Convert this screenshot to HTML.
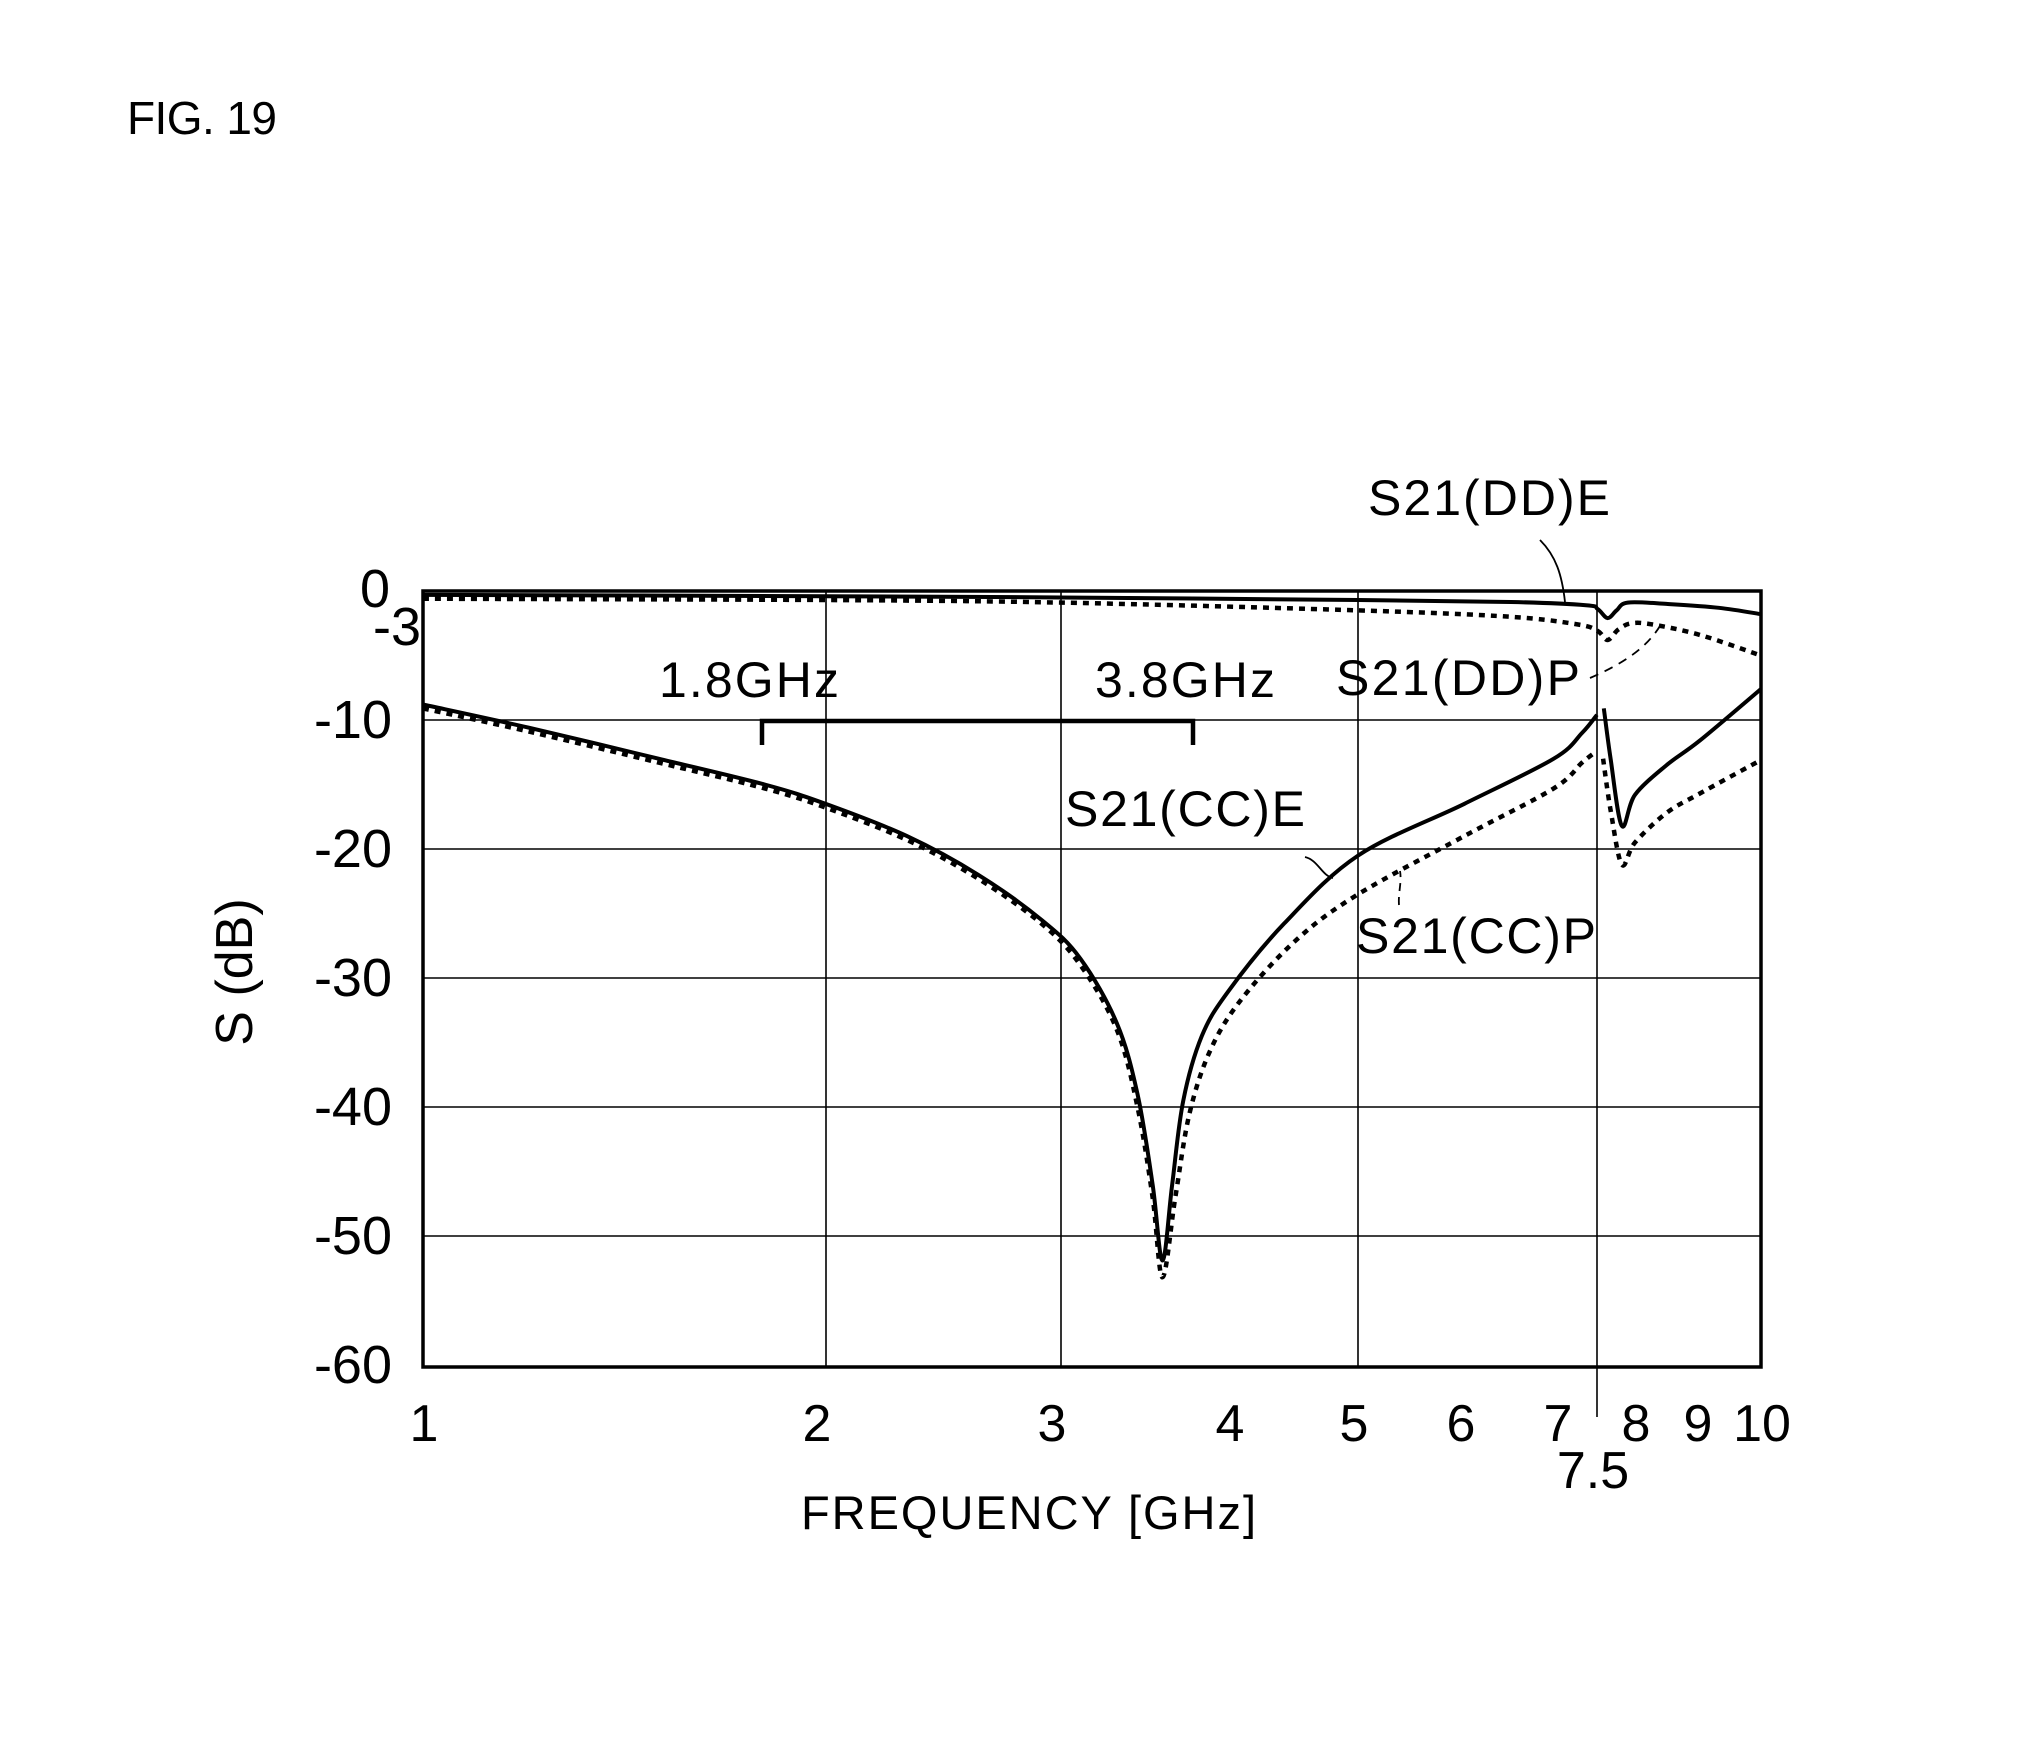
<!DOCTYPE html>
<html><head><meta charset="utf-8"><style>
html,body{margin:0;padding:0;background:#fff;}
svg{display:block;}
text{font-family:"Liberation Sans","DejaVu Sans",sans-serif;fill:#000;}
</style></head><body>
<svg id="s" width="2017" height="1744" viewBox="0 0 2017 1744" xmlns="http://www.w3.org/2000/svg">
<text x="127" y="134" font-size="46" textLength="150">FIG. 19</text>
<g stroke="#000" stroke-width="1.6" fill="none">
<line x1="423" y1="720" x2="1761" y2="720"/>
<line x1="423" y1="849" x2="1761" y2="849"/>
<line x1="423" y1="978" x2="1761" y2="978"/>
<line x1="423" y1="1107" x2="1761" y2="1107"/>
<line x1="423" y1="1236" x2="1761" y2="1236"/>
<line x1="826" y1="591" x2="826" y2="1367"/>
<line x1="1061" y1="591" x2="1061" y2="1367"/>
<line x1="1358" y1="591" x2="1358" y2="1367"/>
<line x1="1597" y1="591" x2="1597" y2="1417"/>
</g>
<rect x="423" y="591" width="1338" height="776" fill="none" stroke="#000" stroke-width="3.5"/>
<g id="curves"></g>
<path d="M762,745 V721 H1193 V745" fill="none" stroke="#000" stroke-width="4.5"/>
<g fill="none" stroke="#000" stroke-width="1.8">
<path d="M1540,540 C1556,556 1562,575 1565,602"/>
<path d="M1590,678 C1620,665 1645,650 1660,626" stroke-dasharray="9,7"/>
<path d="M1305,857 C1318,860 1322,876 1333,878"/>
<path d="M1399,905 C1398,893 1402,882 1400,871" stroke-dasharray="8,6"/>
</g>
<g font-size="50">
<text x="1368" y="515" textLength="242">S21(DD)E</text>
<text x="1336" y="695" textLength="244">S21(DD)P</text>
<text x="659" y="697" textLength="180">1.8GHz</text>
<text x="1095" y="697" textLength="180">3.8GHz</text>
<text x="1065" y="826" textLength="240">S21(CC)E</text>
<text x="1356" y="953" textLength="240">S21(CC)P</text>
</g>
<g font-size="54" text-anchor="end">
<text x="390" y="607">0</text>
<text x="421" y="645">-3</text>
<text x="392" y="738">-10</text>
<text x="392" y="867">-20</text>
<text x="392" y="996">-30</text>
<text x="392" y="1125">-40</text>
<text x="392" y="1254">-50</text>
<text x="392" y="1383">-60</text>
</g>
<g font-size="52" text-anchor="middle">
<text x="424" y="1441">1</text>
<text x="817" y="1441">2</text>
<text x="1052" y="1441">3</text>
<text x="1230" y="1441">4</text>
<text x="1354" y="1441">5</text>
<text x="1461" y="1441">6</text>
<text x="1558" y="1441">7</text>
<text x="1636" y="1441">8</text>
<text x="1698" y="1441">9</text>
<text x="1762" y="1441">10</text>
<text x="1593" y="1488">7.5</text>
</g>
<text x="801" y="1529" font-size="47" textLength="455">FREQUENCY [GHz]</text>
<text transform="translate(252,972) rotate(-90)" font-size="52" text-anchor="middle">S (dB)</text>
</svg>
<script>
function X(f){return 423+1338*Math.log10(f);}
function Y(d){return 591-12.9*d;}
function path(pts){
  var p=pts.map(function(a){return [X(a[0]),Y(a[1])];});
  var d="M"+p[0][0].toFixed(1)+","+p[0][1].toFixed(1);
  for(var i=0;i<p.length-1;i++){
    var p0=p[i-1]||p[i],p1=p[i],p2=p[i+1],p3=p[i+2]||p2;
    var c1x=p1[0]+(p2[0]-p0[0])/6,c1y=p1[1]+(p2[1]-p0[1])/6;
    var c2x=p2[0]-(p3[0]-p1[0])/6,c2y=p2[1]-(p3[1]-p1[1])/6;
    d+=" C"+c1x.toFixed(1)+","+c1y.toFixed(1)+" "+c2x.toFixed(1)+","+c2y.toFixed(1)+" "+p2[0].toFixed(1)+","+p2[1].toFixed(1);
  }
  return d;
}
var S={solid:'stroke-width="4"',dot:'stroke-width="4.5" stroke-dasharray="6,6"'};
var g=document.getElementById("curves"),h="";
function add(pts,st){h+='<path d="'+path(pts)+'" fill="none" stroke="#000" '+S[st]+'/>';}
add([[1,-0.3],[2,-0.4],[3,-0.5],[5,-0.7],[6.5,-0.85],[7.4,-1.1],[7.55,-1.4],[7.68,-2.1],[7.8,-1.5],[7.95,-0.9],[8.5,-1.0],[9.3,-1.3],[10,-1.8]],"solid");
add([[1,-0.6],[2,-0.7],[3,-0.9],[5,-1.5],[6.5,-2.0],[7.3,-2.6],[7.55,-3.1],[7.68,-3.8],[7.82,-3.0],[8.0,-2.5],[8.3,-2.6],[9,-3.4],[10,-5.0]],"dot");
add([[1,-8.8],[1.2,-10.6],[1.5,-13],[1.8,-15],[2,-16.5],[2.3,-19],[2.6,-22],[2.9,-25.5],[3.1,-28.5],[3.3,-33.5],[3.42,-39],[3.51,-46],[3.57,-51.9],[3.63,-46],[3.7,-39.5],[3.82,-34.5],[4,-31],[4.4,-25.8],[5,-20.5],[6,-16.5],[7,-13],[7.35,-11],[7.54,-9.6]],"solid");
add([[7.63,-9.1],[7.72,-13],[7.87,-18.2],[8.05,-15.8],[8.5,-13.5],[9,-11.6],[10,-7.6]],"solid");
add([[1,-9.1],[1.2,-10.9],[1.5,-13.3],[1.8,-15.3],[2,-16.8],[2.3,-19.3],[2.6,-22.3],[2.9,-25.8],[3.1,-29],[3.3,-34],[3.42,-40],[3.51,-47],[3.57,-53.2],[3.65,-47],[3.74,-40.5],[3.88,-35.5],[4.1,-31.5],[4.5,-27],[5,-23.5],[6,-19],[7,-15.3],[7.35,-13.3],[7.54,-12.4]],"dot");
add([[7.62,-13],[7.72,-17],[7.87,-21.2],[8.05,-19.5],[8.5,-17.2],[9,-15.7],[10,-13.1]],"dot");
g.innerHTML=h;
</script>
</body></html>
